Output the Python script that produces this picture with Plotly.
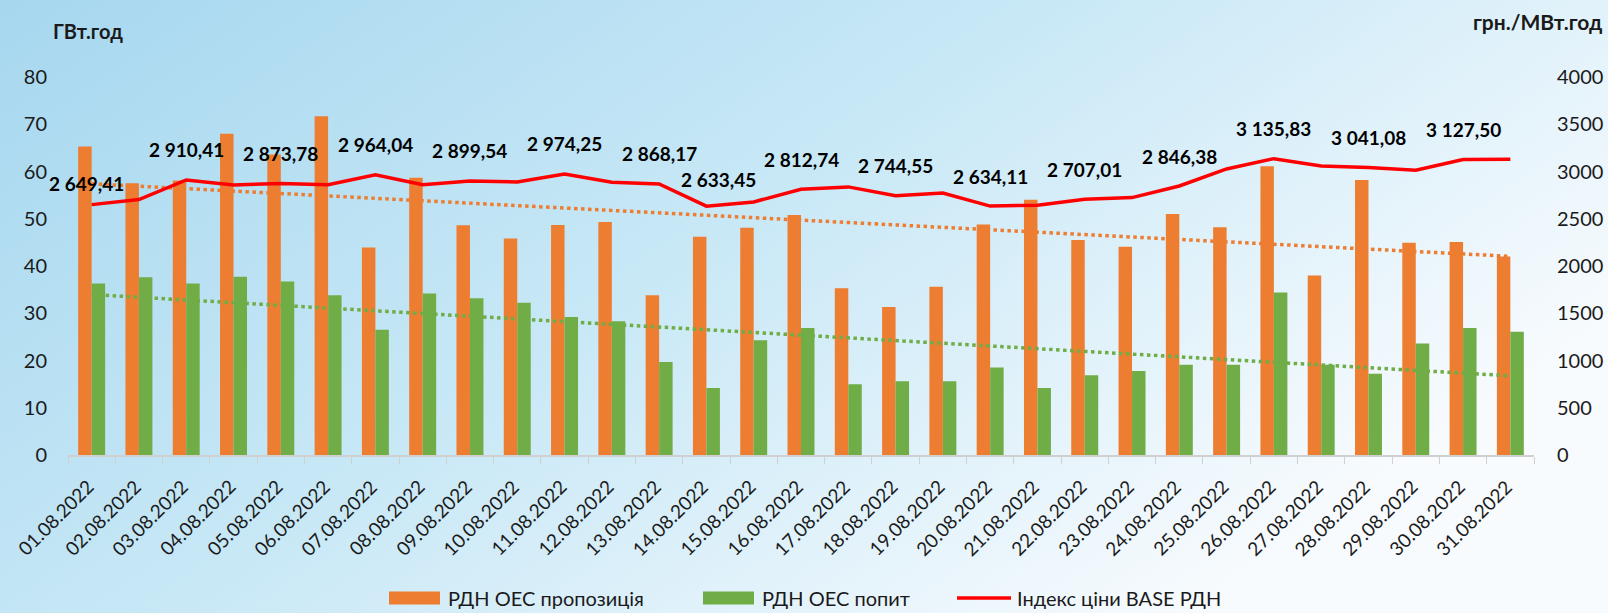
import base64
import numpy as np
import plotly.graph_objects as go

# ---------------- data ----------------
dates = [f"{d:02d}.08.2022" for d in range(1, 32)]
supply = [65.3, 57.5, 58.1, 68.0, 63.6, 71.7, 43.9, 58.7, 48.6, 45.8,
          48.7, 49.3, 33.8, 46.2, 48.1, 50.8, 35.3, 31.3, 35.6, 48.8,
          54.0, 45.5, 44.1, 51.0, 48.2, 61.1, 38.0, 58.2, 44.9, 45.1, 42.0]
demand = [36.3, 37.6, 36.3, 37.7, 36.7, 33.8, 26.5, 34.2, 33.2, 32.2,
          29.2, 28.3, 19.7, 14.2, 24.3, 26.9, 15.0, 15.6, 15.6, 18.5,
          14.2, 16.9, 17.8, 19.1, 19.1, 34.4, 19.1, 17.2, 23.6, 26.9, 26.1]
price = [2649.41, 2703, 2910.41, 2858, 2873.78, 2861, 2964.04, 2861, 2899.54, 2890,
         2974.25, 2886, 2868.17, 2633.45, 2678, 2812.74, 2837, 2744.55, 2773, 2634.11,
         2643, 2707.01, 2724, 2846.38, 3027, 3135.83, 3059, 3041.08, 3013, 3127.50, 3129]
labelled = [0, 2, 4, 6, 8, 10, 12, 13, 15, 17, 19, 21, 23, 25, 27, 29]
series_names = ["РДН ОЕС пропозиція", "РДН ОЕС попит", "Індекс ціни BASE РДН"]
left_title = "ГВт.год"
right_title = "грн./МВт.год"

# ---------------- style ----------------
W, H = 1608, 613
L, R, T, B = 68, 74, 77, 158
PW, PH = W - L - R, H - T - B
ORANGE, GREEN, RED = "#ED7D31", "#70AD47", "#FF0000"
FONT = "Lato"
TXT = "#1a1a1a"


def px2x(px):
    return (px - L) / PW


def py2y(py):
    return (H - B - py) / PH


# linear trend lines (Excel-style linear trendline)
idx = np.arange(len(dates))
s_fit = np.polyval(np.polyfit(idx, supply, 1), idx)
d_fit = np.polyval(np.polyfit(idx, demand, 1), idx)

fig = go.Figure()
fig.add_trace(go.Bar(x=dates, y=supply, name=series_names[0], marker=dict(color=ORANGE, line=dict(width=0))))
fig.add_trace(go.Bar(x=dates, y=demand, name=series_names[1], marker=dict(color=GREEN, line=dict(width=0))))
fig.add_trace(go.Scatter(x=dates, y=s_fit, mode="lines", line=dict(color=ORANGE, width=3.5, dash="dot"), showlegend=False))
fig.add_trace(go.Scatter(x=dates, y=d_fit, mode="lines", line=dict(color=GREEN, width=3.5, dash="dot"), showlegend=False))
fig.add_trace(go.Scatter(x=dates, y=price, name=series_names[2], yaxis="y2", mode="lines",
                         line=dict(color=RED, width=3.5)))

# background gradient
svg = f'''<svg xmlns="http://www.w3.org/2000/svg" width="{W}" height="{H}" viewBox="0 0 {W} {H}" preserveAspectRatio="none">
<defs><linearGradient id="g" x1="0" y1="0" x2="1" y2="0.55">
<stop offset="0" stop-color="#a6d7ef"/><stop offset="0.5" stop-color="#c8e8f6"/><stop offset="1" stop-color="#f8fbfe"/>
</linearGradient></defs><rect width="{W}" height="{H}" fill="url(#g)"/></svg>'''
src = "data:image/svg+xml;base64," + base64.b64encode(svg.encode()).decode()

annotations = []
# price data labels
shift = {0: (-5, 21), 13: (12, 27)}
for i in labelled:
    v = price[i]
    txt = f"{v:,.2f}".replace(",", " ").replace(".", ",")
    dx, dy = shift.get(i, (0, 30))
    annotations.append(dict(x=dates[i], y=v, xref="x", yref="y2", text=f"<b>{txt}</b>", showarrow=False,
                            xanchor="center", yanchor="middle",
                            xshift=dx, yshift=dy, font=dict(family=FONT, size=19, color="#000")))

# rotated category labels
for d in dates:
    annotations.append(dict(x=d, y=0, xref="x", yref="y", text=d, textangle=-45, showarrow=False,
                            xanchor="center", yanchor="middle", xshift=-36.5, yshift=-62.5,
                            font=dict(family=FONT, size=19, color=TXT)))

annotations.append(dict(x=px2x(88), y=py2y(31), xref="paper", yref="paper", text=f"<b>{left_title}</b>",
                        xanchor="center", yanchor="middle",
                        showarrow=False, font=dict(family=FONT, size=20, color=TXT)))
annotations.append(dict(x=px2x(1604), y=py2y(22), xref="paper", yref="paper", xanchor="right",
                        yanchor="middle",
                        text=f"<b>{right_title}</b>", showarrow=False, font=dict(family=FONT, size=21, color=TXT)))

# manual legend
shapes = []
leg_y = 598
items = [(389, 440, "rect", ORANGE, 446, series_names[0]),
         (703, 754, "rect", GREEN, 760, series_names[1]),
         (957, 1011, "line", RED, 1015, series_names[2])]
for x0, x1, kind, col, tx, name in items:
    if kind == "rect":
        shapes.append(dict(type="rect", xref="paper", yref="paper", x0=px2x(x0), x1=px2x(x1),
                           y0=py2y(leg_y + 6.5), y1=py2y(leg_y - 6.5), fillcolor=col, line=dict(width=0)))
    else:
        shapes.append(dict(type="line", xref="paper", yref="paper", x0=px2x(x0), x1=px2x(x1),
                           y0=py2y(leg_y), y1=py2y(leg_y), line=dict(color=col, width=3.5)))
    annotations.append(dict(x=px2x(tx), y=py2y(leg_y), xref="paper", yref="paper", xanchor="left",
                            yanchor="middle", text=name, showarrow=False,
                            font=dict(family=FONT, size=20, color=TXT)))

fig.update_layout(
    width=W, height=H,
    margin=dict(l=L, r=R, t=T, b=B, autoexpand=False),
    paper_bgcolor="#c8e8f6", plot_bgcolor="rgba(0,0,0,0)",
    barmode="group", bargap=0.43, bargroupgap=0,
    showlegend=False,
    font=dict(family=FONT, color=TXT),
    images=[dict(source=src, xref="paper", yref="paper", x=px2x(0), y=py2y(0),
                 sizex=W / PW, sizey=H / PH, xanchor="left", yanchor="top",
                 sizing="stretch", layer="below")],
    xaxis=dict(type="category", range=[-0.5, len(dates) - 0.5], autorange=False,
               showgrid=False, showline=True, linecolor="#d0d0d0",
               linewidth=1.5, ticks="outside", tickson="boundaries", ticklen=7, tickcolor="#d0d0d0",
               showticklabels=False),
    yaxis=dict(range=[0, 80], autorange=False, dtick=10, showgrid=False, zeroline=False, showline=False,
               tickfont=dict(family=FONT, size=20, color=TXT), ticklabelstandoff=20),
    yaxis2=dict(range=[0, 4000], autorange=False, dtick=500, overlaying="y", side="right", showgrid=False,
                zeroline=False, showline=False, tickfont=dict(family=FONT, size=20, color=TXT),
                ticklabelstandoff=22),
    annotations=annotations, shapes=shapes,
)

fig.write_html("out.html", config={"displayModeBar": False},
               post_script="document.body.style.margin='0';document.body.style.overflow='hidden';")
